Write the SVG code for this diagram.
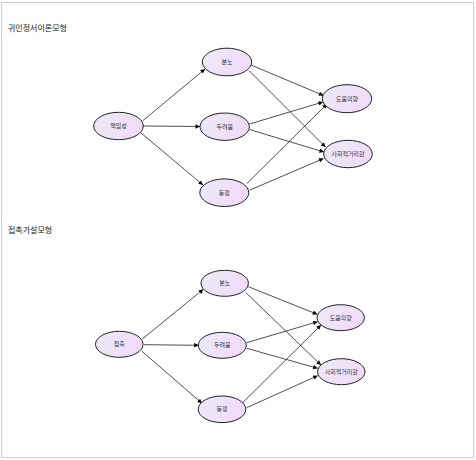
<svg xmlns="http://www.w3.org/2000/svg" width="476" height="460" viewBox="0 0 476 460">
<defs>
<linearGradient id="g" x1="0" y1="0" x2="1" y2="0.3">
<stop offset="0" stop-color="#ecebf8"/>
<stop offset="1" stop-color="#f1dbf8"/>
</linearGradient>
<marker id="ah" viewBox="0 0 10 10" refX="10" refY="5" markerWidth="7" markerHeight="4.5" markerUnits="userSpaceOnUse" orient="auto">
<path d="M0,0 L10,5 L0,10 z" fill="#000"/>
</marker>
<style>
.n ellipse{fill:url(#g);stroke:#222;stroke-width:1}
.n text{font-family:"Noto Sans CJK KR","Noto Sans",sans-serif;font-size:6px;fill:#333;text-anchor:middle}
.t{font-family:"Noto Sans CJK KR","Noto Sans",sans-serif;font-size:8px;fill:#222}
#edges line{stroke:#222;stroke-width:0.8;marker-end:url(#ah)}
</style>
</defs>
<rect x="1.5" y="2.5" width="472" height="455" fill="#fff" stroke="#d0d0d0" stroke-width="1"/>
<text class="t" x="8" y="31">귀인정서이론모형</text>
<text class="t" x="8" y="233">접촉가설모형</text>
<g id="edges">
<line x1="143" y1="120.5" x2="205" y2="69"/>
<line x1="143.5" y1="126" x2="200" y2="126.5"/>
<line x1="140.5" y1="132.5" x2="203" y2="185"/>
<line x1="251" y1="65" x2="323.5" y2="95.5"/>
<line x1="249" y1="70.5" x2="325.5" y2="147"/>
<line x1="249.5" y1="124" x2="323" y2="102"/>
<line x1="249.5" y1="129.5" x2="324" y2="152"/>
<line x1="247" y1="183.5" x2="327" y2="104"/>
<line x1="250" y1="190" x2="323.5" y2="158.5"/>
<line x1="142.7" y1="338.7" x2="203.3" y2="289.3"/>
<line x1="144" y1="344.7" x2="198.7" y2="345.3"/>
<line x1="142" y1="351.3" x2="202" y2="403.3"/>
<line x1="248.3" y1="286.7" x2="317.3" y2="314.3"/>
<line x1="246" y1="292.7" x2="321" y2="365"/>
<line x1="246.7" y1="342.7" x2="317.7" y2="321.7"/>
<line x1="246.7" y1="348.3" x2="317.7" y2="368.3"/>
<line x1="242.7" y1="402.7" x2="321" y2="325"/>
<line x1="246.7" y1="407.7" x2="317.7" y2="375.7"/>
</g>
<g id="a1" class="n"><ellipse cx="118.5" cy="126" rx="24.8" ry="13.7"/><text x="118.5" y="128">책임성</text></g>
<g id="a2" class="n"><ellipse cx="227" cy="62" rx="24.7" ry="13.8"/><text x="227" y="64">분노</text></g>
<g id="a3" class="n"><ellipse cx="224.7" cy="126.7" rx="24.7" ry="13.7"/><text x="224.7" y="128.7">두려움</text></g>
<g id="a4" class="n"><ellipse cx="224.3" cy="192.7" rx="24.5" ry="13.8"/><text x="224.3" y="194.7">동정</text></g>
<g id="a5" class="n"><ellipse cx="347" cy="98.7" rx="24.7" ry="14"/><text x="347" y="100.7">도움의향</text></g>
<g id="a6" class="n"><ellipse cx="348" cy="154" rx="24.3" ry="13.7"/><text x="348" y="156">사회적거리감</text></g>
<g id="b1" class="n"><ellipse cx="119.3" cy="344.3" rx="23.8" ry="13"/><text x="119.3" y="346.3">접촉</text></g>
<g id="b2" class="n"><ellipse cx="224.7" cy="283.3" rx="23.7" ry="13"/><text x="224.7" y="285.3">분노</text></g>
<g id="b3" class="n"><ellipse cx="222.3" cy="345.3" rx="24" ry="13"/><text x="222.3" y="347.3">두려움</text></g>
<g id="b4" class="n"><ellipse cx="222" cy="409.3" rx="23.8" ry="13.3"/><text x="222" y="411.3">동정</text></g>
<g id="b5" class="n"><ellipse cx="340.7" cy="317.7" rx="23.7" ry="13"/><text x="340.7" y="319.7">도움의향</text></g>
<g id="b6" class="n"><ellipse cx="341.3" cy="371.7" rx="23.7" ry="13"/><text x="341.3" y="373.7">사회적거리감</text></g>
</svg>
